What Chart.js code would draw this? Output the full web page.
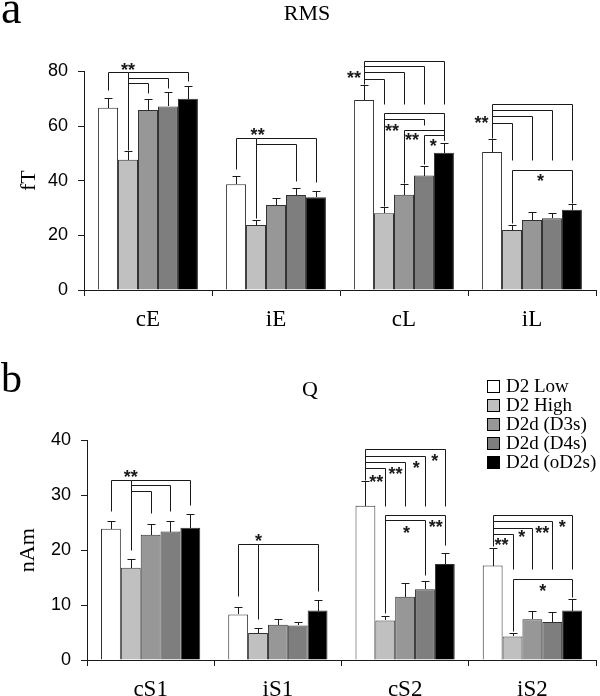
<!DOCTYPE html>
<html>
<head>
<meta charset="utf-8">
<title>RMS / Q</title>
<script src="https://cdn.jsdelivr.net/npm/chart.js@4.4.1/dist/chart.umd.min.js"></script>
<style>
  html, body { margin: 0; padding: 0; background: #fff; }
  #wrap { position: relative; width: 600px; height: 696px; overflow: hidden; }
  #wrap canvas { position: absolute; left: 0; }
  #chart-rms { top: 0; }
  #chart-q { top: 340px; }
</style>
</head>
<body>
<div id="wrap">
  <canvas id="chart-rms" width="600" height="340"></canvas>
  <canvas id="chart-q" width="600" height="356"></canvas>
</div>
<script>
'use strict';

/* ─── Données ─────────────────────────────────────────────── */
var seriesLabels = ['D2 Low', 'D2 High', 'D2d (D3s)', 'D2d (D4s)', 'D2d (oD2s)'];
var seriesColors = ['#ffffff', '#c0c0c0', '#979797', '#7e7e7e', '#000000'];

/* a : RMS (fT) */
var rmsCategories = ['cE', 'iE', 'cL', 'iL'];
var rmsLow   = [66.7, 38.7, 69.5, 50.5];
var rmsHigh  = [47.7, 23.8, 28.1, 22.0];
var rmsD3s   = [65.9, 31.1, 34.9, 25.6];
var rmsD4s   = [67.2, 34.8, 41.9, 26.3];
var rmsOD2s  = [70.0, 33.9, 50.2, 29.4];
var rmsLowErr  = [3.6, 3.2, 5.5, 4.8];
var rmsHighErr = [3.0, 1.8, 2.2, 1.9];
var rmsD3sErr  = [3.9, 2.5, 3.8, 3.0];
var rmsD4sErr  = [5.1, 2.4, 3.6, 1.8];
var rmsOD2sErr = [4.5, 2.4, 3.6, 1.9];
var rmsTicks = [0, 20, 40, 60, 80];

/* b : Q (nAm) */
var qCategories = ['cS1', 'iS1', 'cS2', 'iS2'];
var qLow   = [23.9, 8.3, 28.1, 17.2];
var qHigh  = [16.8, 4.9, 7.2, 4.3];
var qD3s   = [22.8, 6.4, 11.5, 7.4];
var qD4s   = [23.4, 6.3, 12.9, 6.9];
var qOD2s  = [24.1, 9.0, 17.5, 9.0];
var qLowErr  = [1.4, 1.4, 4.5, 3.2];
var qHighErr = [1.6, 0.9, 0.8, 0.6];
var qD3sErr  = [2.0, 1.0, 2.5, 1.6];
var qD4sErr  = [1.9, 0.6, 1.4, 1.9];
var qOD2sErr = [2.5, 1.9, 2.0, 2.1];
var qTicks = [0, 10, 20, 30, 40];

/* Crochets de significativité :
   [groupe, barre pivot, fin du trait pivot, [[barre cible, niveau, fin du trait], ...]] */
var rmsLinks = [
  [0, 1, 51.2, [[0, 79.9, 73.2], [4, 79.9, 76.4], [3, 77.6, 74.0], [2, 75.7, 72.0]]],
  [1, 1, 26.2, [[0, 55.7, 44.4], [4, 55.7, 39.5], [3, 53.5, 39.9]]],
  [2, 0, 75.4, [[4, 83.7, 68.1], [3, 81.8, 68.1], [2, 79.6, 68.1], [1, 77.4, 68.1]]],
  [2, 1, 30.8, [[4, 64.8, 55.0], [3, 62.7, 60.5]]],
  [2, 2, 39.3, [[4, 58.7, 55.0]]],
  [2, 3, 46.0, [[4, 56.8, 55.0]]],
  [3, 0, 55.6, [[4, 68.1, 47.4], [3, 65.7, 47.4], [2, 63.5, 47.4], [1, 61.2, 47.4]]],
  [3, 1, 24.4, [[4, 44.0, 31.7]]]
];
/* Étoiles : [groupe, position en barres, niveau, texte] */
var rmsStars = [
  [0, 1.0, 82.1, '**'], [1, 1.08, 58.4, '**'],
  [2, -0.5, 79.3, '**'], [2, 1.4, 59.9, '**'], [2, 2.4, 56.6, '**'], [2, 3.47, 54.3, '*'],
  [3, -0.53, 62.7, '**'], [3, 2.42, 41.4, '*']
];

var qLinks = [
  [0, 1, 20.1, [[0, 32.8, 27.2], [4, 32.8, 28.2], [3, 31.8, 27.2], [2, 30.8, 26.7]]],
  [1, 1, 7.4, [[0, 21.1, 11.6], [4, 21.1, 12.6]]],
  [2, 0, 32.8, [[4, 38.5, 28.1], [3, 37.1, 28.1], [2, 36.1, 28.1], [1, 35.0, 28.1]]],
  [2, 1, 8.5, [[4, 26.5, 20.9], [3, 25.5, 15.5]]],
  [3, 0, 20.7, [[4, 26.5, 16.5], [3, 25.3, 16.5], [2, 24.1, 16.5], [1, 22.9, 16.5]]],
  [3, 1, 5.2, [[4, 14.7, 11.5]]]
];
var qStars = [
  [0, 1.0, 34.1, '**'], [1, 1.02, 22.4, '*'],
  [2, 0.55, 33.3, '**'], [2, 1.51, 34.7, '**'], [2, 2.56, 35.8, '*'], [2, 3.49, 37.0, '*'],
  [2, 2.07, 23.9, '*'], [2, 3.54, 25.0, '**'],
  [3, 0.44, 21.8, '**'], [3, 1.47, 23.2, '*'], [3, 2.5, 23.9, '**'], [3, 3.51, 25.1, '*'],
  [3, 2.52, 13.3, '*']
];

var SERIF = '"Liberation Serif", "Times New Roman", serif';
var SANS  = '"Liberation Sans", Arial, sans-serif';
var INK   = '#1a1a1a';

/* ─── Plugins ─────────────────────────────────────────────── */
function crisp(v) { return Math.round(v) + 0.5; }

/* Barres d'erreur (SEM, vers le haut seulement) */
var errorBarsPlugin = {
  id: 'errorBars',
  afterDatasetsDraw: function(chart) {
    var ctx = chart.ctx;
    var y = chart.scales.y;
    ctx.save();
    ctx.strokeStyle = INK;
    ctx.lineWidth = 1;
    ctx.beginPath();
    chart.data.datasets.forEach(function(ds, i) {
      var meta = chart.getDatasetMeta(i);
      meta.data.forEach(function(bar, j) {
        var x = crisp(bar.x);
        var top = crisp(y.getPixelForValue(ds.data[j] + ds.errors[j]));
        ctx.moveTo(x, Math.round(bar.y));
        ctx.lineTo(x, top);
        ctx.moveTo(x - 4, top);
        ctx.lineTo(x + 4, top);
      });
    });
    ctx.stroke();
    ctx.restore();
  }
};

/* Crochets + étoiles */
var bracketsPlugin = {
  id: 'brackets',
  afterDatasetsDraw: function(chart, args, opts) {
    var ctx = chart.ctx;
    var y = chart.scales.y;
    function barX(group, pos) {
      var x0 = chart.getDatasetMeta(0).data[group].x;
      var x1 = chart.getDatasetMeta(1).data[group].x;
      return x0 + pos * (x1 - x0);
    }
    ctx.save();
    ctx.strokeStyle = INK;
    ctx.lineWidth = 1;
    ctx.beginPath();
    opts.links.forEach(function(l) {
      var g = l[0];
      var hx = crisp(barX(g, l[1]));
      var top = 0;
      l[3].forEach(function(t) {
        var tx = crisp(barX(g, t[0]));
        var ly = crisp(y.getPixelForValue(t[1]));
        ctx.moveTo(hx, ly);
        ctx.lineTo(tx, ly);
        ctx.lineTo(tx, crisp(y.getPixelForValue(t[2])));
        if (t[1] > top) { top = t[1]; }
      });
      ctx.moveTo(hx, crisp(y.getPixelForValue(top)));
      ctx.lineTo(hx, crisp(y.getPixelForValue(l[2])));
    });
    ctx.stroke();

    var size = 18;
    ctx.fillStyle = INK;
    ctx.font = 'bold ' + size + 'px ' + SANS;
    ctx.textAlign = 'center';
    ctx.textBaseline = 'alphabetic';
    opts.stars.forEach(function(s) {
      ctx.fillText(s[3], barX(s[0], s[1]), y.getPixelForValue(s[2]) + 0.58 * size);
    });
    ctx.restore();
  }
};

/* Lettre du panneau + légende à cases */
var panelExtrasPlugin = {
  id: 'panelExtras',
  afterDraw: function(chart, args, opts) {
    var ctx = chart.ctx;
    ctx.save();
    ctx.fillStyle = '#000';
    ctx.textAlign = 'left';
    ctx.textBaseline = 'alphabetic';
    ctx.font = opts.letterSize + 'px ' + SERIF;
    ctx.fillText(opts.letter, 1, opts.letterBaseline);

    if (opts.legend) {
      var L = opts.legend;
      ctx.font = L.size + 'px ' + SERIF;
      ctx.textBaseline = 'middle';
      ctx.strokeStyle = '#000';
      ctx.lineWidth = 1;
      chart.data.datasets.forEach(function(ds, i) {
        var cy = Math.round(L.top + i * L.row);
        ctx.fillStyle = ds.backgroundColor;
        ctx.fillRect(L.left, cy - 6, 13, 13);
        ctx.strokeRect(L.left + 0.5, cy - 5.5, 12, 12);
        ctx.fillStyle = '#000';
        ctx.fillText(ds.label, L.left + 19, cy + 1);
      });
    }
    ctx.restore();
  }
};

/* ─── Construction des graphiques ─────────────────────────── */
function buildDatasets(values, errors) {
  var out = [];
  for (var i = 0; i < values.length; i++) {
    out.push({
      label: seriesLabels[i],
      data: values[i],
      errors: errors[i],
      backgroundColor: seriesColors[i],
      borderColor: '#303030',
      borderWidth: 1,
      categoryPercentage: 0.78,
      barPercentage: 1
    });
  }
  return out;
}

function makeChart(id, cfg) {
  return new Chart(document.getElementById(id), {
    type: 'bar',
    data: {
      labels: cfg.categories,
      datasets: buildDatasets(cfg.values, cfg.errors)
    },
    plugins: [errorBarsPlugin, bracketsPlugin, panelExtrasPlugin],
    options: {
      responsive: false,
      animation: false,
      events: [],
      layout: { padding: { left: cfg.padLeft, right: 4, top: 0, bottom: 0 } },
      plugins: {
        legend: { display: false },
        tooltip: { enabled: false },
        title: {
          display: true,
          text: cfg.title,
          color: '#000',
          font: { family: SERIF, size: 22, weight: 'normal' },
          padding: { top: cfg.titleTop, bottom: cfg.titleBottom }
        },
        brackets: { links: cfg.links, stars: cfg.stars },
        panelExtras: cfg.extras
      },
      scales: {
        x: {
          offset: true,
          grid: { display: true, offset: true, drawOnChartArea: false, drawTicks: true, tickLength: 6, color: INK },
          border: { display: true, color: INK, width: 1 },
          ticks: { color: '#000', font: { family: SERIF, size: 23 }, padding: 10 },
          afterFit: function(s) { s.height = cfg.xHeight; }
        },
        y: {
          min: cfg.ticks[0],
          max: cfg.ticks[cfg.ticks.length - 1],
          afterBuildTicks: function(s) {
            s.ticks = cfg.ticks.map(function(v) { return { value: v }; });
          },
          grid: { display: true, drawOnChartArea: false, drawTicks: true, tickLength: 6, color: INK },
          border: { display: true, color: INK, width: 1 },
          ticks: { color: '#000', font: { family: SANS, size: 18 }, padding: 10 },
          title: {
            display: true,
            text: cfg.yTitle,
            color: '#000',
            font: { family: SERIF, size: 22 },
            padding: { top: cfg.yTitlePad, bottom: 0 }
          },
          afterFit: function(s) { s.width = cfg.yWidth; }
        }
      }
    }
  });
}

document.addEventListener('DOMContentLoaded', function() {
  makeChart('chart-rms', {
    categories: rmsCategories,
    values: [rmsLow, rmsHigh, rmsD3s, rmsD4s, rmsOD2s],
    errors: [rmsLowErr, rmsHighErr, rmsD3sErr, rmsD4sErr, rmsOD2sErr],
    ticks: rmsTicks,
    title: 'RMS',
    yTitle: 'fT',
    links: rmsLinks,
    stars: rmsStars,
    padLeft: 18, yWidth: 66, yTitlePad: -2,
    titleTop: 1, titleBottom: 44, xHeight: 50,
    extras: { letter: 'a', letterSize: 46, letterBaseline: 23 }
  });

  makeChart('chart-q', {
    categories: qCategories,
    values: [qLow, qHigh, qD3s, qD4s, qOD2s],
    errors: [qLowErr, qHighErr, qD3sErr, qD4sErr, qOD2sErr],
    ticks: qTicks,
    title: 'Q',
    yTitle: 'nAm',
    links: qLinks,
    stars: qStars,
    padLeft: 24, yWidth: 63, yTitlePad: -9,
    titleTop: 37, titleBottom: 37, xHeight: 36,
    extras: {
      letter: 'b', letterSize: 42, letterBaseline: 52,
      legend: { left: 487, top: 45.5, row: 19, size: 19 }
    }
  });
});
</script>
</body>
</html>
